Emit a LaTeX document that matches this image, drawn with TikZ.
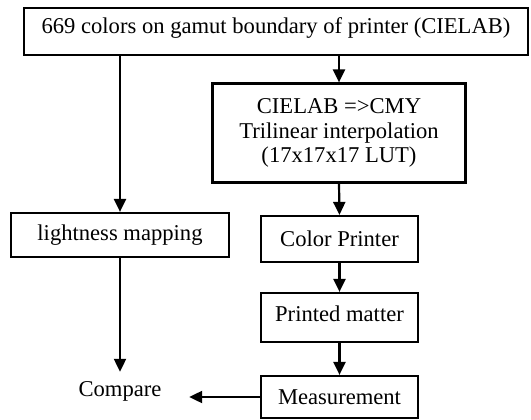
\documentclass[tikz,border=0pt]{standalone}
\usepackage{fontspec}
\setmainfont{Liberation Serif}
\usetikzlibrary{arrows.meta}
\begin{document}
\begin{tikzpicture}[x=1pt,y=-1pt,
  font=\fontsize{22.6}{24.8}\selectfont,
  box/.style={draw,line width=2.2pt,inner sep=0pt,align=center},
  arr/.style={line width=2.2pt,-{Triangle[length=13pt,width=12pt]}}]
\useasboundingbox (0,0) rectangle (531,420);
\node[box,minimum width=504,minimum height=47,text depth=12pt] (top) at (276,31.5) {669 colors on gamut boundary of printer (CIELAB)};
\node[box,minimum width=253,minimum height=99] (cie) at (339,133) {CIELAB =>CMY\\Trilinear interpolation\\(17x17x17 LUT)};
\node[box,minimum width=218,minimum height=44] (light) at (120,235) {lightness mapping};
\node[box,minimum width=157,minimum height=46] (cp) at (339.5,239) {Color Printer};
\node[box,minimum width=157,minimum height=49,text depth=8pt] (pm) at (339.5,317.5) {Printed matter};
\node[box,minimum width=157,minimum height=42] (meas) at (339.5,397) {Measurement};
\node[inner sep=0pt,minimum width=138,minimum height=38] (cmp) at (120,391) {Compare};
\draw[arr] (top.south -| cie.north) -- (cie.north);
\draw[arr] (top.south -| light.north) -- (light.north);
\draw[arr] (cie.south) -- (cp.north);
\draw[arr] (cp.south) -- (pm.north);
\draw[arr] (pm.south) -- (meas.north);
\draw[arr] (light.south) -- (cmp.north);
\draw[arr] (meas.west) -- (meas.west -| cmp.east);
\end{tikzpicture}
\end{document}
